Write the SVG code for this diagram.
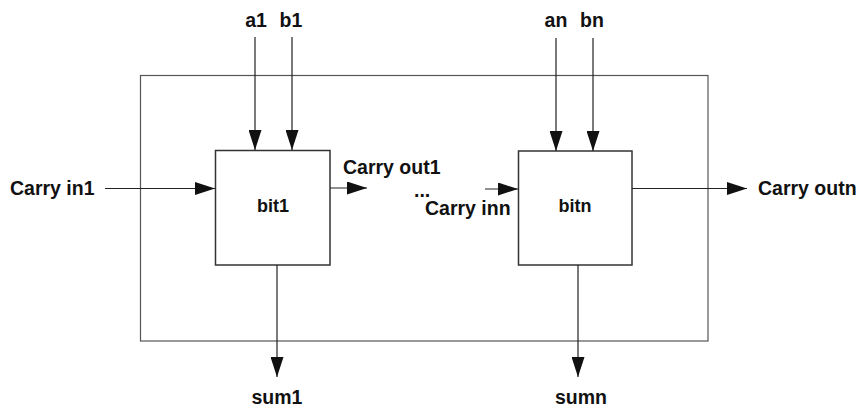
<svg xmlns="http://www.w3.org/2000/svg" width="861" height="408" viewBox="0 0 861 408">
  <defs>
    <style>
      .lbl { font-family: "Liberation Sans", Arial, sans-serif; font-weight: bold; font-size: 19.5px; fill: #111; }
      .mid { text-anchor: middle; }
      .box { fill: #fff; stroke: #333; stroke-width: 1.5; }
      .outer { fill: none; stroke: #555; stroke-width: 1.2; }
      .wire { stroke: #222; stroke-width: 1.2; fill: none; marker-end: url(#ah); }
    </style>
    <marker id="ah" markerUnits="userSpaceOnUse" markerWidth="21" markerHeight="13" refX="20" refY="6.5" orient="auto">
      <path d="M0,0 L20,6.5 L0,13 Z" fill="#111"/>
    </marker>
  </defs>
  <rect width="861" height="408" fill="#fff"/>

  <g id="container">
    <rect class="outer" x="140.5" y="75.5" width="567.5" height="265.5"/>
  </g>

  <g id="bit1">
    <rect class="box" x="215.5" y="150.5" width="114.5" height="114.5"/>
    <text class="lbl mid" x="273" y="212" style="font-size:18px">bit1</text>
  </g>

  <g id="bitn">
    <rect class="box" x="518.5" y="151" width="113.5" height="114"/>
    <text class="lbl mid" x="575" y="212" style="font-size:18px">bitn</text>
  </g>

  <g id="connectors">
    <line class="wire" x1="255" y1="37" x2="255" y2="150"/>
    <line class="wire" x1="292" y1="37" x2="292" y2="150"/>
    <line class="wire" x1="556" y1="38" x2="556" y2="151"/>
    <line class="wire" x1="593" y1="38" x2="593" y2="151"/>
    <line class="wire" x1="105" y1="188.5" x2="215" y2="188.5"/>
    <line class="wire" x1="330" y1="188" x2="367" y2="188"/>
    <line class="wire" x1="485" y1="189" x2="518" y2="189"/>
    <line class="wire" x1="632" y1="188.5" x2="747" y2="188.5"/>
    <line class="wire" x1="277" y1="265" x2="277" y2="377"/>
    <line class="wire" x1="578" y1="265" x2="578" y2="377"/>
  </g>

  <g id="labels">
    <text class="lbl mid" x="256" y="27">a1</text>
    <text class="lbl mid" x="291" y="27">b1</text>
    <text class="lbl mid" x="556" y="27">an</text>
    <text class="lbl mid" x="592" y="27">bn</text>
    <text class="lbl" x="10" y="195">Carry in1</text>
    <text class="lbl" x="343" y="174">Carry out1</text>
    <text class="lbl" x="414" y="197">...</text>
    <text class="lbl" x="425" y="215">Carry inn</text>
    <text class="lbl" x="758" y="195">Carry outn</text>
    <text class="lbl mid" x="277" y="404">sum1</text>
    <text class="lbl mid" x="581" y="404">sumn</text>
  </g>
</svg>
